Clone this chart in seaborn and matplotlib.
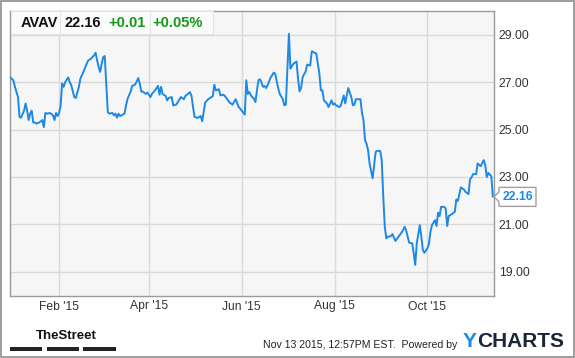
import numpy as np
import pandas as pd
import matplotlib
matplotlib.use("Agg")
import matplotlib.pyplot as plt
import matplotlib.dates as mdates
from matplotlib.patches import Rectangle, Polygon
from matplotlib.transforms import IdentityTransform
import seaborn as sns

# ---------------- data ----------------
ticker = "AVAV"
last_price_text = "22.16"
change_text = "+0.01"
change_pct_text = "+0.05%"
footer_text = "Nov 13 2015, 12:57PM EST.  Powered by"

start_date = "2014-12-31"
days_since_start = [
    0, 2, 3, 5, 6, 7, 9, 10, 11, 12, 13, 14, 15, 16, 17, 19, 21, 22, 23, 24,
    26, 28, 29, 30, 31, 32, 33, 34, 35, 36, 38, 39, 40, 42, 43, 45, 46, 48, 49, 51,
    52, 53, 55, 56, 57, 58, 59, 60, 61, 62, 64, 65, 67, 68, 69, 70, 71, 72, 74, 75,
    76, 77, 79, 80, 82, 84, 85, 86, 87, 89, 90, 92, 93, 95, 97, 98, 99, 100, 102, 103,
    104, 106, 107, 109, 110, 112, 114, 115, 116, 118, 119, 120, 121, 123, 125, 126, 128, 130, 132, 133,
    134, 135, 137, 138, 140, 141, 143, 144, 146, 148, 150, 151, 153, 154, 155, 156, 157, 158, 160, 161,
    162, 163, 164, 165, 166, 167, 168, 169, 171, 172, 173, 174, 176, 177, 179, 180, 181, 183, 184, 185,
    186, 188, 189, 190, 191, 192, 194, 195, 197, 198, 199, 201, 203, 204, 205, 206, 208, 209, 211, 212,
    213, 214, 216, 217, 219, 220, 221, 222, 224, 225, 226, 227, 230, 231, 232, 233, 234, 235, 236, 238,
    239, 240, 241, 243, 244, 245, 246, 247, 248, 250, 251, 252, 253, 255, 257, 258, 259, 260, 262, 264,
    265, 266, 267, 269, 270, 271, 272, 274, 275, 276, 277, 279, 280, 281, 282, 283, 285, 286, 287, 288,
    290, 292, 293, 294, 296, 298, 299, 301, 302, 303, 304, 306, 307, 309, 311, 312, 313, 314, 316, 317,
]
price = [
    27.20, 27.07, 26.80, 26.37, 25.53, 25.50, 25.80, 26.10, 25.80, 25.40, 25.67, 25.80, 25.30, 25.30, 25.25, 25.30, 25.40, 25.10, 25.70, 25.67,
    25.70, 25.60, 25.40, 25.70, 25.57, 25.70, 26.00, 26.94, 26.80, 27.00, 27.20, 27.00, 26.87, 26.37, 26.33, 26.80, 27.15, 27.43, 27.60, 27.90,
    27.95, 27.99, 28.13, 28.24, 27.92, 27.64, 27.43, 27.78, 28.06, 28.10, 25.74, 25.67, 25.70, 25.60, 25.67, 25.50, 25.67, 25.57, 25.63, 25.68,
    26.02, 26.30, 26.60, 26.84, 26.90, 27.17, 26.94, 26.60, 26.60, 26.50, 26.56, 26.37, 26.50, 26.65, 26.84, 26.47, 26.80, 26.50, 26.42, 26.23,
    26.33, 26.37, 26.02, 26.05, 26.16, 26.37, 26.28, 26.42, 26.47, 26.58, 26.42, 25.95, 25.53, 25.49, 25.57, 25.35, 26.14, 26.28, 26.37, 26.41,
    26.89, 26.65, 26.70, 26.44, 26.47, 26.41, 26.23, 26.14, 26.05, 26.28, 25.95, 25.88, 25.71, 25.63, 27.08, 26.50, 26.58, 26.44, 26.30, 26.16,
    26.65, 27.08, 27.12, 26.98, 26.80, 26.84, 26.75, 26.87, 27.20, 27.29, 27.40, 27.35, 26.73, 26.50, 26.28, 26.02, 26.05, 29.04, 27.57, 27.68,
    27.78, 27.87, 27.15, 26.61, 26.75, 27.21, 27.45, 27.74, 27.70, 28.30, 28.27, 28.20, 27.36, 26.65, 26.65, 26.23, 26.10, 25.95, 26.23, 26.05,
    26.10, 26.02, 25.95, 25.99, 26.44, 26.10, 26.44, 26.75, 26.37, 26.02, 26.05, 26.28, 26.28, 25.70, 25.40, 24.55, 24.41, 24.13, 23.57, 22.94,
    23.50, 24.06, 24.10, 24.10, 23.70, 22.16, 20.90, 20.41, 20.48, 20.50, 20.59, 20.45, 20.30, 20.48, 20.65, 20.76, 20.90, 20.75, 20.23, 20.20,
    19.78, 19.29, 20.20, 20.97, 20.48, 19.92, 19.80, 19.99, 20.17, 20.69, 20.97, 21.18, 20.93, 21.49, 21.35, 21.74, 21.74, 21.67, 20.93, 21.35,
    21.43, 21.53, 22.05, 21.99, 22.56, 22.47, 22.37, 22.28, 22.90, 22.98, 23.12, 23.12, 23.57, 23.45, 23.71, 23.50, 23.00, 23.17, 23.03, 22.16,
]
y_ticks = [19, 21, 23, 25, 27, 29]
x_tick_months = [2, 4, 6, 8, 10]

# ---------------- style ----------------
sns.set_style("white")
plt.rcParams["font.family"] = ["Liberation Sans", "DejaVu Sans"]

W, H = 575, 358
fig = plt.figure(figsize=(W / 100, H / 100), dpi=100)
fig.patch.set_facecolor("white")


def fx(x):
    return x / W


def fy(y):
    return 1 - y / H


ax_left, ax_right, ax_top, ax_bottom = 10, 494, 11, 295.5
ax = fig.add_axes([fx(ax_left), fy(ax_bottom), (ax_right - ax_left) / W, (ax_bottom - ax_top) / H])
ax.set_facecolor("#f6f6f6")

df = pd.DataFrame({
    "date": pd.Timestamp(start_date) + pd.to_timedelta(days_since_start, unit="D"),
    "price": price,
})

line_color = "#1e88e5"
sns.lineplot(data=df, x="date", y="price", ax=ax, color=line_color, linewidth=1.4, zorder=3)

ax.set_xlim(df["date"].iloc[0] - pd.Timedelta(hours=6), df["date"].iloc[-1] + pd.Timedelta(hours=18))
ax.set_ylim(18.0, 30.0)
ax.set_xlabel("")
ax.set_ylabel("")

ax.yaxis.tick_right()
ax.set_yticks(y_ticks)
ax.yaxis.set_major_formatter(matplotlib.ticker.FormatStrFormatter("%.2f"))
ax.xaxis.set_major_locator(mdates.MonthLocator(bymonth=x_tick_months))
ax.xaxis.set_major_formatter(mdates.DateFormatter("%b '%y"))
ax.tick_params(axis="y", length=0, pad=3.4, labelsize=8.7, labelcolor="#333333")
ax.tick_params(axis="x", length=0, pad=3.6, labelsize=8.7, labelcolor="#333333")

ax.grid(True, color="#d9d9d9", linewidth=1.0, zorder=0)
ax.set_axisbelow(True)
for s in ax.spines.values():
    s.set_visible(True)
    s.set_color("#9a9a9a")
    s.set_linewidth(1.0)

# ---------------- header box ----------------
fig.add_artist(Rectangle((fx(10.5), fy(33.5)), (213 - 10.5) / W, (33.5 - 11) / H,
                         transform=fig.transFigure, facecolor="#fbfbfb",
                         edgecolor="#e4e4e4", linewidth=0.8, zorder=4))
for sx in (59.5, 149.5):
    fig.add_artist(plt.Line2D([fx(sx), fx(sx)], [fy(11.5), fy(33.5)], transform=fig.transFigure,
                              color="#e4e4e4", linewidth=0.8, zorder=5))
hy = fy(22.8)
fig.text(fx(20.5), hy, ticker, fontsize=10.5, fontweight="bold", color="#111111", va="center", ha="left", zorder=6)
fig.text(fx(64.5), hy, last_price_text, fontsize=10.5, fontweight="bold", color="#111111", va="center", ha="left", zorder=6)
fig.text(fx(108.5), hy, change_text, fontsize=10.5, fontweight="bold", color="#119a11", va="center", ha="left", zorder=6)
fig.text(fx(152.5), hy, change_pct_text, fontsize=10.5, fontweight="bold", color="#119a11", va="center", ha="left", zorder=6)

# ---------------- last price marker ----------------
last_x = mdates.date2num(df["date"].iloc[-1])
_, py = ax.transData.transform((last_x, price[-1]))
tip = ax.bbox.x1
verts = [(tip, py), (tip + 5, py + 5), (tip + 5, py + 9.5), (tip + 42, py + 9.5),
         (tip + 42, py - 9.5), (tip + 5, py - 9.5), (tip + 5, py - 5)]
fig.add_artist(Polygon(verts, closed=True, transform=IdentityTransform(), facecolor="white",
                       edgecolor="#a0a0a0", linewidth=1.0, zorder=6))
fig.text((tip + 23.5) / W, py / H, f"{price[-1]:.2f}", fontsize=8.7, fontweight="bold",
         color=line_color, ha="center", va="center", zorder=7)

# ---------------- footer ----------------
fig.text(fx(36), fy(336), "TheStreet", fontsize=9.5, fontweight="bold",
         family=["Liberation Sans Narrow", "Liberation Sans", "DejaVu Sans"],
         color="#111111", ha="left", va="center")
for bx0, bx1 in ((10, 42), (47, 79), (83, 116)):
    fig.add_artist(Rectangle((fx(bx0), fy(351)), (bx1 - bx0) / W, 4 / H, transform=fig.transFigure,
                             facecolor="#222222", edgecolor="none"))
fig.text(fx(263), fy(345), footer_text, fontsize=7.6, color="#222222", ha="left", va="center")
fig.text(fx(463), fy(341.5), "Y", fontsize=15, fontweight="bold", color="#1a8ae6", ha="left", va="center")
fig.text(fx(477), fy(341.5), "CHARTS", fontsize=15, fontweight="bold", color="#1b2838", ha="left", va="center")

# outer border
fig.add_artist(Rectangle((fx(1), fy(357)), 573 / W, 356 / H, transform=fig.transFigure,
                         fill=False, edgecolor="#8c8c8c", linewidth=1.2, zorder=10))

fig.savefig("out.png", dpi=100, facecolor="white")
